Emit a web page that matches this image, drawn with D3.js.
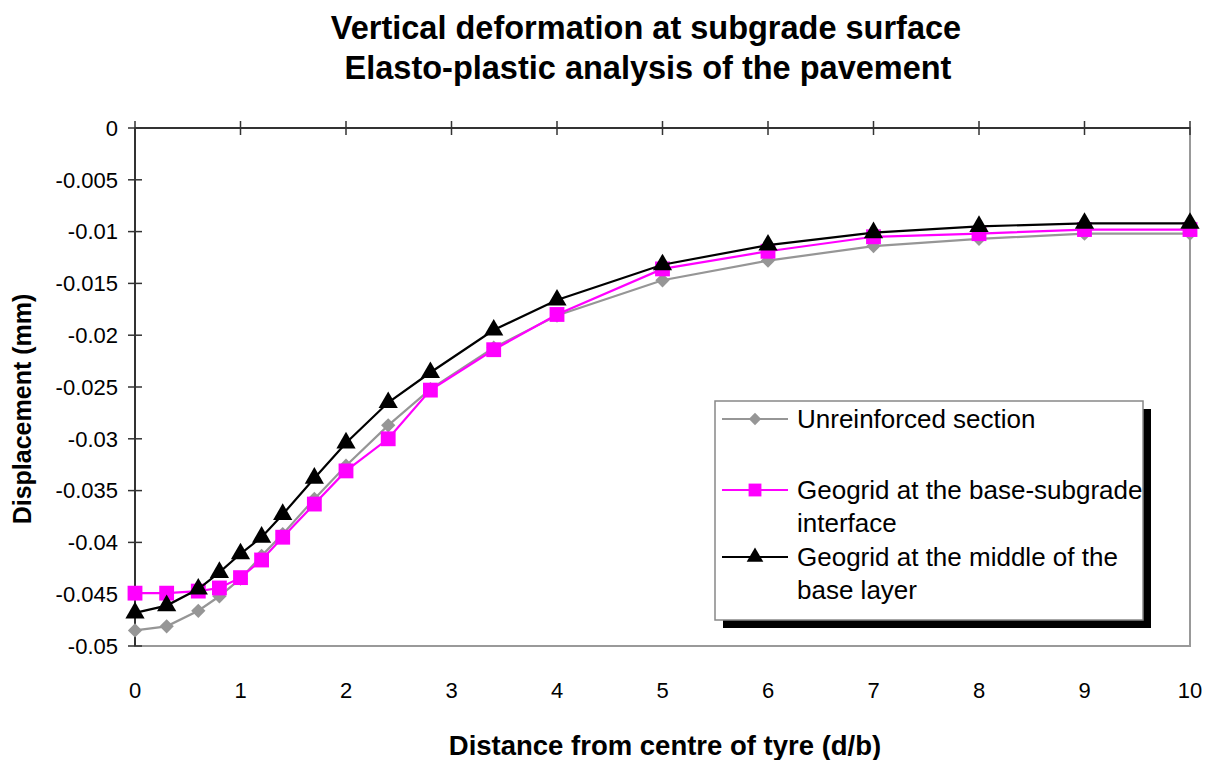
<!DOCTYPE html>
<html>
<head>
<meta charset="utf-8">
<script src="https://cdn.jsdelivr.net/npm/d3@7"></script>
<style>
  body { margin: 0; background: #fff; }
  svg text { font-family: "Liberation Sans", Arial, sans-serif; fill: #000; }
</style>
</head>
<body>
<div id="chart"></div>
<script>
// Chart data
let distance = [0, 0.3, 0.6, 0.8, 1, 1.2, 1.4, 1.7, 2, 2.4, 2.8, 3.4, 4, 5, 6, 7, 8, 9, 10]
let unreinforced = [-0.0485, -0.0481, -0.0466, -0.0452, -0.0435, -0.0413, -0.0392, -0.0358, -0.0326,
  -0.0287, -0.0252, -0.0212, -0.0181, -0.0147, -0.0128, -0.0114, -0.0107, -0.0102, -0.0102]
let geogridBase = [-0.0449, -0.0449, -0.0447, -0.0444, -0.0434, -0.0417, -0.0395, -0.0363, -0.0331,
  -0.0300, -0.0253, -0.0214, -0.0180, -0.0136, -0.0119, -0.0105, -0.0102, -0.0098, -0.0098]
let geogridMiddle = [-0.0468, -0.0461, -0.0445, -0.0429, -0.0411, -0.0395, -0.0373, -0.0338, -0.0304,
  -0.0265, -0.0236, -0.0195, -0.0166, -0.0132, -0.0113, -0.0101, -0.0095, -0.0092, -0.0092]
let xTicks = [0, 1, 2, 3, 4, 5, 6, 7, 8, 9, 10]
let yTicks = [0, -0.005, -0.01, -0.015, -0.02, -0.025, -0.03, -0.035, -0.04, -0.045, -0.05]

let series = [
  { name: ['Unreinforced section'], values: unreinforced, color: '#969696', symbol: d3.symbolDiamond2, size: 130 },
  { name: ['Geogrid at the base-subgrade', 'interface'], values: geogridBase, color: '#ff00ff', symbol: d3.symbolSquare, size: 220 },
  { name: ['Geogrid at the middle of the', 'base layer'], values: geogridMiddle, color: '#000000', symbol: d3.symbolTriangle, size: 160 }
]

let margin = { top: 128, right: 27, bottom: 114, left: 135 },
    width = 1217 - margin.left - margin.right,
    height = 760 - margin.top - margin.bottom

let svg = d3.select('#chart').append('svg')
    .attr('width', 1217)
    .attr('height', 760)

let g = svg.append('g')
    .attr('transform', 'translate(' + margin.left + ',' + margin.top + ')')

let xScale = d3.scaleLinear().domain([0, 10]).range([0, width])
let yScale = d3.scaleLinear().domain([-0.05, 0]).range([height, 0])

// Plot area border (right and bottom, grey)
g.append('rect')
  .attr('x', 0).attr('y', 0)
  .attr('width', width).attr('height', height)
  .attr('fill', 'none')
  .attr('stroke', '#999')
  .attr('stroke-width', 2)

// Title
svg.append('text')
  .attr('x', 646).attr('y', 39)
  .attr('text-anchor', 'middle')
  .style('font-size', '32.5px').style('font-weight', 'bold')
  .text('Vertical deformation at subgrade surface')
svg.append('text')
  .attr('x', 648).attr('y', 79)
  .attr('text-anchor', 'middle')
  .style('font-size', '32.5px').style('font-weight', 'bold')
  .text('Elasto-plastic analysis of the pavement')

// X axis sits at y = 0 (top), labels at the bottom
let xAxis = g.append('g').attr('class', 'axis-x')
xAxis.append('line')
  .attr('x1', 0).attr('x2', width)
  .attr('y1', yScale(0)).attr('y2', yScale(0))
  .attr('stroke', '#333').attr('stroke-width', 2)
xAxis.selectAll('.tick')
  .data(xTicks).enter().append('line')
  .attr('x1', d => xScale(d)).attr('x2', d => xScale(d))
  .attr('y1', yScale(0) - 7).attr('y2', yScale(0) + 7)
  .attr('stroke', '#333').attr('stroke-width', 1.5)
g.selectAll('.xlabel')
  .data(xTicks).enter().append('text')
  .attr('x', d => xScale(d))
  .attr('y', height + 52)
  .attr('text-anchor', 'middle')
  .style('font-size', '22px')
  .text(d => d)

// Y axis
let yAxis = g.append('g').attr('class', 'axis-y')
yAxis.append('line')
  .attr('x1', 0).attr('x2', 0)
  .attr('y1', 0).attr('y2', height)
  .attr('stroke', '#333').attr('stroke-width', 2)
yAxis.selectAll('.tick')
  .data(yTicks).enter().append('line')
  .attr('x1', -7).attr('x2', 7)
  .attr('y1', d => yScale(d)).attr('y2', d => yScale(d))
  .attr('stroke', '#333').attr('stroke-width', 1.5)
g.selectAll('.ylabel')
  .data(yTicks).enter().append('text')
  .attr('x', -17)
  .attr('y', d => yScale(d))
  .attr('dy', '0.35em')
  .attr('text-anchor', 'end')
  .style('font-size', '22px')
  .text(d => d3.format('~g')(d).replace('−', '-'))

// Axis titles
svg.append('text')
  .attr('x', 665).attr('y', 755)
  .attr('text-anchor', 'middle')
  .style('font-size', '27.5px').style('font-weight', 'bold')
  .text('Distance from centre of tyre (d/b)')
svg.append('text')
  .attr('transform', 'translate(31,409) rotate(-90)')
  .attr('text-anchor', 'middle')
  .style('font-size', '25px').style('font-weight', 'bold')
  .text('Displacement (mm)')

// Series lines and markers
let line = d3.line()
    .x((d, i) => xScale(distance[i]))
    .y(d => yScale(d))

series.forEach(s => {
  g.append('path')
    .datum(s.values)
    .attr('d', line)
    .attr('fill', 'none')
    .attr('stroke', s.color)
    .attr('stroke-width', 2.2)
  g.selectAll(null)
    .data(s.values).enter().append('path')
    .attr('d', d3.symbol().type(s.symbol).size(s.size))
    .attr('transform', (d, i) => 'translate(' + xScale(distance[i]) + ',' + yScale(d) + ')')
    .attr('fill', s.color)
})

// Legend
let legend = svg.append('g').attr('transform', 'translate(715,401)')
legend.append('rect')
  .attr('x', 8).attr('y', 8)
  .attr('width', 428).attr('height', 219)
  .attr('fill', '#000')
legend.append('rect')
  .attr('width', 428).attr('height', 219)
  .attr('fill', '#fff')
  .attr('stroke', '#888').attr('stroke-width', 1.5)

let legendY = [18, 89, 156]
series.forEach((s, i) => {
  let row = legend.append('g').attr('transform', 'translate(0,' + legendY[i] + ')')
  row.append('line')
    .attr('x1', 7).attr('x2', 73)
    .attr('y1', 0).attr('y2', 0)
    .attr('stroke', s.color).attr('stroke-width', 2)
  row.append('path')
    .attr('d', d3.symbol().type(s.symbol).size(s.size * 0.75))
    .attr('transform', 'translate(40,0)')
    .attr('fill', s.color)
  s.name.forEach((t, j) => {
    row.append('text')
      .attr('x', 82).attr('y', j * 33)
      .attr('dy', '0.35em')
      .style('font-size', '26px')
      .text(t)
  })
})
</script>
</body>
</html>
